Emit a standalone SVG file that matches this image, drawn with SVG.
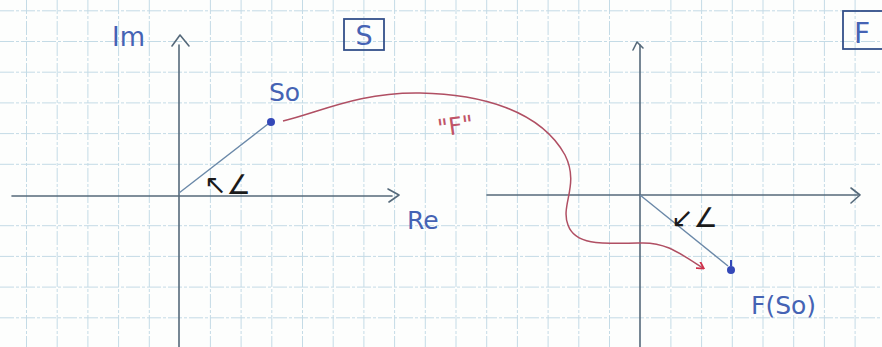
<svg xmlns="http://www.w3.org/2000/svg" width="882" height="347" viewBox="0 0 882 347">
<style>
.grid{stroke:#c4dbe6;stroke-width:1;stroke-dasharray:14 2 3 2}
.axis{stroke:#55697a;stroke-width:1.6;fill:none;stroke-linecap:round;stroke-linejoin:round}
.vec{stroke:#6a88a8;stroke-width:1.4;fill:none}
.lbl{font-family:"DejaVu Sans",sans-serif;fill:#4563b4}
.ang{font-family:"DejaVu Sans",sans-serif;fill:#1a1a1a;font-size:27px}
.box{fill:none;stroke:#34508a;stroke-width:1.8}
.map{stroke:#b04f63;stroke-width:1.5;fill:none}
.pt{fill:#3448b8}
</style>
<defs>
<marker id="redhead" markerWidth="8" markerHeight="8" refX="6" refY="4" orient="auto" markerUnits="userSpaceOnUse">
<path d="M0,0 L7,4 L0,8" fill="none" stroke="#d0304a" stroke-width="1.8"/>
</marker>
</defs>
<rect width="882" height="347" fill="#fdfefd"/>
<g id="grid">
<path class="grid" d="M26.5,0V347M57.2,0V347M87.9,0V347M118.6,0V347M149.3,0V347M210.4,0V347M241.1,0V347M271.8,0V347M302.5,0V347M333.2,0V347M363.9,0V347M394.6,0V347M425.3,0V347M456,0V347M486.7,0V347M517.4,0V347M548.1,0V347M578.8,0V347M609.5,0V347M670.9,0V347M701.6,0V347M732.3,0V347M763,0V347M793.7,0V347M824.4,0V347M855.1,0V347"/>
<path class="grid" d="M0,10.8H882M0,41.5H882M0,72.2H882M0,102.9H882M0,133.6H882M0,164.3H882M0,225.7H882M0,256.4H882M0,287.1H882M0,317.8H882"/>
</g>
<g id="s-plane">
<path class="axis" d="M179,45V347"/>
<path class="axis" d="M172,46L180,35L189,46"/>
<path class="axis" d="M12,196H392"/>
<path class="axis" d="M388,189L399,195L389,202"/>
<text class="lbl" x="112" y="46" font-size="26">Im</text>
<text class="lbl" x="407" y="229" font-size="25">Re</text>
<rect class="box" x="344" y="19" width="40" height="31"/>
<text class="lbl" x="364" y="45" font-size="27" text-anchor="middle">S</text>
</g>
<g id="f-plane">
<path class="axis" d="M640,45V347"/>
<path class="axis" d="M633,50L637,42L643,48"/>
<path class="axis" d="M487,195H858"/>
<path class="axis" d="M851,188L860,195L851,203"/>
<rect class="box" x="843" y="11" width="42" height="38"/>
<text class="lbl" x="854" y="43" font-size="28">F</text>
</g>
<g id="s0">
<path class="vec" d="M179,193L268,124"/>
<circle class="pt" cx="271" cy="122" r="4"/>
<text class="lbl" x="269" y="101" font-size="25">So</text>
<text class="ang" x="204" y="194">↖∠</text>
</g>
<g id="fs0">
<path class="vec" d="M640,195L728,266"/>
<circle class="pt" cx="731" cy="270" r="4"/>
<path d="M731,266V260" stroke="#3448b8" stroke-width="2"/>
<text class="lbl" x="751" y="314" font-size="25">F(So)</text>
<text class="ang" x="671" y="227">↙∠</text>
</g>
<g id="connectors">
<path class="map" d="M283,121 C320,112 360,92 420,93 C480,94 540,110 565,155 C580,185 560,205 568,225 C575,245 600,244 640,243 C665,242 678,252 703,268" marker-end="url(#redhead)"/>
<text x="437" y="133" font-family="DejaVu Sans,sans-serif" font-size="24" fill="#c05468" transform="rotate(-8 465 122)">"F"</text>
</g>
</svg>
